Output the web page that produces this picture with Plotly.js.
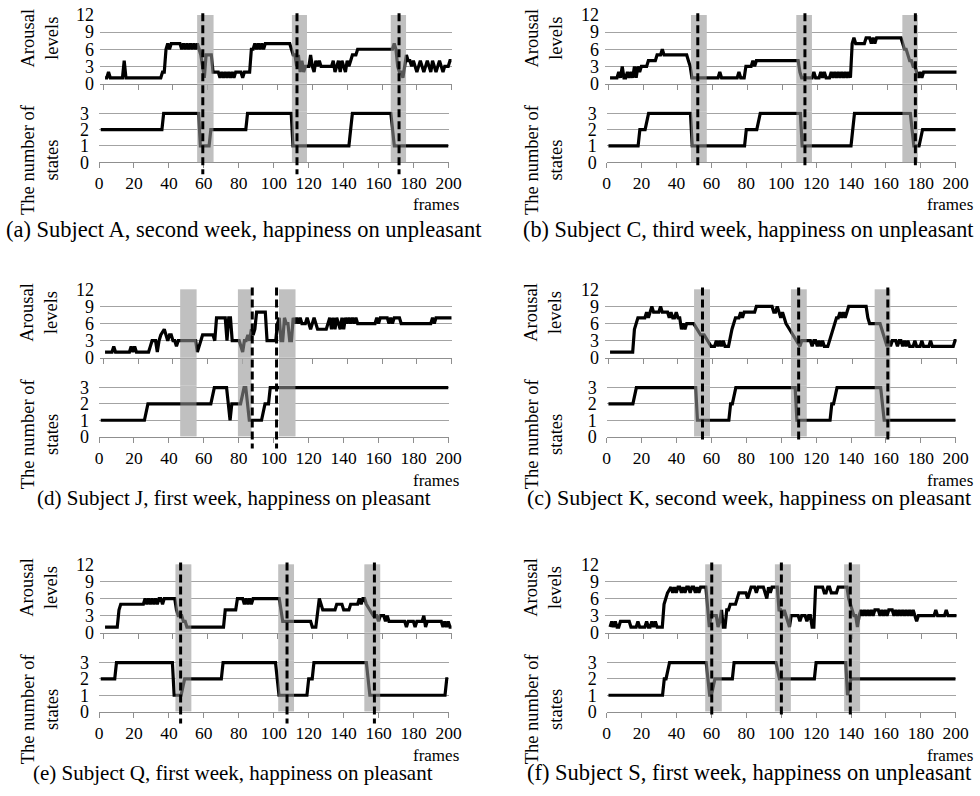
<!DOCTYPE html>
<html>
<head>
<meta charset="utf-8">
<script src="https://cdn.plot.ly/plotly-3.0.1.min.js"></script>
<style>html,body{margin:0;padding:0;background:#fff;}#chart{width:980px;height:796px;}</style>
</head>
<body>
<div id="chart"></div>
<script>
// ---------------- DATA (vertices: frame, value) ----------------
const xTickVals = [0,20,40,60,80,100,120,140,160,180,200];
const arousalTicks = [0,3,6,9,12];
const statesTicks = [0,1,2,3];

const captions = [
  "(a) Subject A, second week, happiness on unpleasant",
  "(b) Subject C, third week, happiness on unpleasant",
  "(d) Subject J, first week, happiness on pleasant",
  "(c) Subject K, second week, happiness on pleasant",
  "(e) Subject Q, first week, happiness on pleasant",
  "(f) Subject S, first week, happiness on unpleasant"
];

// (a) Subject A
const arousalA_x = [1,2,3,4,11,12,13,33,34,35,36,37,38,39,44,45,46,47,48,49,50,51,52,53,54,55,56,57,58,59,62,63,66,67,68,69,70,71,72,73,74,75,76,79,80,81,84,85,86,87,88,89,90,91,92,93,107,108,109,110,111,112,113,114,115,116,118,119,120,121,122,123,124,125,131,132,133,134,135,136,137,138,139,140,141,142,143,145,146,166,167,168,169,170,171,172,173,174,175,176,177,178,179,180,181,182,183,184,185,186,187,188,189,190,191,192,193,194,195,196,198,199,200];
const arousalA_y = [1,1,2,1,1,4,1,1,2,2,6,7,6,7,7,6,7,6,7,6,7,6,7,6,7,6,5,3,1,5,5,2,2,1,2,1,2,1,2,1,2,1,2,2,1,2,2,6,6,7,6,7,6,7,6,7,7,6,5,5,3,5,2,4,2,3,3,5,3,2,4,3,4,3,3,4,2,3,4,2,4,3,2,4,3,4,5,5,6,6,7,6,3,2,2,1,3,5,4,4,3,4,3,2,3,4,3,2,3,4,3,2,4,3,2,3,4,3,2,3,3,4,4];
const statesA_x = [1,36,37,57,58,63,64,84,85,110,111,143,144,145,167,168,169,200];
const statesA_y = [2,2,3,3,1,1,2,2,3,3,1,1,2,3,3,2,1,1];
const rectsA = [[56.2,65.5],[110.4,119.0],[167.0,175.7]];
const dashesA = [59.4,113.3,171.7];

// (b) Subject C
const arousalB_x = [1,5,6,7,8,9,10,11,12,13,14,15,16,17,18,19,22,23,27,28,30,31,32,45,46,47,48,49,63,64,65,74,75,76,78,79,82,83,84,85,86,109,110,111,117,118,119,121,122,123,124,125,127,128,129,130,131,132,133,134,135,136,137,138,139,140,141,142,147,148,150,151,152,153,154,168,169,170,171,172,173,174,175,176,177,178,179,180,181,200];
const arousalB_y = [1,1,2,1,3,1,1,2,1,2,1,3,1,3,2,3,3,4,4,5,5,6,5,5,4,3,1,1,1,2,1,1,2,1,1,3,3,4,3,4,4,4,2,1,1,2,1,1,2,1,2,1,1,2,1,2,1,2,1,2,1,2,1,2,1,7,8,7,7,8,8,7,8,7,8,8,7,6,6,5,4,4,3,3,2,1,2,1,2,2];
const statesB_x = [1,18,19,22,24,48,49,79,80,86,88,111,112,140,142,174,176,179,181,200];
const statesB_y = [1,1,2,2,3,3,1,1,2,2,3,3,1,1,3,3,1,1,2,2];
const rectsB = [[48.3,57.3],[108.7,117.6],[169.5,178.3]];
const dashesB = [52.2,113.6,176.9];

// (d) Subject J
const arousalD_x = [1,5,6,7,15,16,17,18,19,26,27,28,30,31,32,33,35,36,37,38,39,40,41,42,43,53,54,55,56,57,63,64,65,70,71,72,73,74,78,79,80,81,82,83,84,85,86,87,88,93,94,99,100,101,102,103,104,105,106,107,108,109,110,111,112,113,114,116,117,118,119,120,121,122,123,128,129,130,131,132,133,134,135,136,137,138,139,140,141,142,143,144,145,146,156,157,158,159,163,164,165,166,167,170,171,188,189,190,191,200];
const arousalD_y = [1,1,2,1,1,2,1,2,1,1,2,3,3,1,3,4,5,4,3,4,4,3,3,2,3,3,1,2,3,4,4,3,7,7,3,7,7,3,3,2,1,3,3,4,3,5,4,5,8,8,3,3,6,7,3,3,7,6,6,3,3,7,6,7,6,7,6,6,7,6,5,6,7,6,5,5,6,7,5,7,5,7,6,5,7,5,7,6,7,6,7,6,7,6,6,7,6,7,7,6,7,6,7,7,6,6,7,6,7,7];
const statesD_x = [1,26,28,64,66,73,74,75,76,81,83,84,85,86,93,95,97,98,200];
const statesD_y = [1,1,2,2,3,3,2,1,2,2,3,3,2,1,1,2,2,3,3];
const rectsD = [[46.5,55.8],[79.5,87.2],[103.0,112.4]];
const dashesD = [87.7,101.6];

// (c) Subject K
const arousalC_x = [1,14,15,16,17,21,22,23,24,25,26,29,30,31,34,35,36,37,38,39,40,41,42,43,44,45,49,51,53,55,57,59,61,62,63,64,65,66,67,69,71,72,73,75,76,77,78,84,85,94,95,96,97,98,99,100,101,102,104,106,108,110,111,116,117,118,119,120,121,122,123,124,126,127,128,129,130,131,132,133,134,135,136,137,138,148,149,150,156,157,158,159,160,161,162,163,165,166,167,168,169,170,171,172,173,175,176,177,179,180,181,184,185,186,198,199,200];
const arousalC_y = [1,1,5,6,7,7,8,7,8,9,8,8,9,8,8,7,8,7,7,8,7,7,5,6,5,6,6,5,4,4,3,2,2,3,2,3,2,3,2,2,5,6,7,7,8,7,8,8,9,9,8,8,9,8,7,8,7,6,5,4,3,2,3,3,2,3,3,2,3,2,3,2,2,3,4,5,6,7,7,8,7,8,7,8,9,9,7,6,6,5,4,3,2,3,2,3,3,2,3,3,2,3,2,3,2,2,3,2,2,3,2,2,3,2,2,3,3];
const statesC_x = [1,15,17,51,52,70,71,72,74,108,109,128,129,130,132,157,159,200];
const statesC_y = [2,2,3,3,1,1,2,2,3,3,1,1,2,2,3,3,1,1];
const rectsC = [[50.1,59.2],[105.6,114.6],[153.6,162.5]];
const dashesC = [54.9,110.0,161.1];

// (e) Subject Q
const arousalE_x = [1,8,9,10,23,24,25,26,27,28,29,30,31,32,33,34,35,41,42,43,45,46,47,48,69,70,76,77,80,81,82,83,84,85,86,101,102,103,119,120,122,123,124,125,126,133,134,137,138,141,142,146,147,148,149,150,151,153,155,157,158,159,161,162,163,164,173,174,175,178,179,180,183,184,185,186,194,195,196,197,198,199,200];
const arousalE_y = [1,1,4,5,5,6,5,6,5,6,5,6,5,6,6,5,6,6,4,3,3,2,2,1,1,4,4,6,6,5,6,5,6,5,6,6,4,2,2,1,1,4,6,5,4,4,5,5,4,4,5,5,6,5,6,6,5,4,3,3,2,3,3,2,3,2,2,1,2,2,1,2,2,3,1,2,2,1,2,1,2,1,1];
const statesE_x = [1,9,10,42,43,47,49,70,71,101,103,119,120,122,123,153,155,198,199,200];
const statesE_y = [2,2,3,3,1,1,2,2,3,3,1,1,2,2,3,3,1,1,2,2];
const rectsE = [[43.8,52.8],[102.6,111.6],[151.9,160.9]];
const dashesE = [46.7,107.6,157.6];

// (f) Subject S
const arousalF_x = [1,2,3,4,5,6,7,12,13,16,17,18,21,22,23,24,25,26,27,28,31,32,33,34,36,37,38,39,40,41,42,43,44,45,46,47,48,49,50,51,52,53,56,57,58,59,62,63,64,65,66,67,68,69,70,73,74,75,79,80,81,82,84,85,86,89,90,91,92,93,94,97,98,99,100,101,102,103,104,105,109,110,111,113,114,115,116,117,118,119,123,124,125,126,127,128,131,132,137,138,139,140,141,142,143,144,145,146,147,148,149,150,151,152,153,155,156,157,158,159,160,161,163,164,165,166,167,168,169,170,171,172,173,174,175,176,177,178,187,188,189,193,194,195,200];
const arousalF_y = [1,2,1,2,1,1,2,2,1,1,2,1,1,2,1,1,2,1,2,1,1,5,6,7,8,7,8,7,8,8,7,8,7,8,8,7,8,8,7,8,7,8,8,4,1,3,3,1,2,4,1,1,4,4,5,5,6,7,7,6,7,8,8,7,8,8,7,6,8,7,8,8,4,4,3,4,3,2,1,3,3,2,3,3,2,3,3,1,1,8,8,7,7,8,8,7,7,8,8,6,5,4,3,3,1,3,4,3,4,3,4,3,4,3,4,4,3,4,3,4,3,4,4,3,4,3,4,3,4,3,4,3,4,3,4,3,2,3,3,4,3,3,4,3,3];
const statesF_x = [1,32,33,34,36,57,59,60,62,72,73,97,99,119,120,137,138,140,200];
const statesF_y = [1,1,2,2,3,3,1,1,2,2,3,3,2,2,3,3,1,2,2];
const rectsF = [[56.5,65.9],[96.4,105.5],[136.1,145.2]];
const dashesF = [60.2,100.1,139.6];

// ---------------- LAYOUT GEOMETRY ----------------
const W = 980, H = 796;
const FONT = '"Liberation Serif", "Times New Roman", Times, serif';
const COLS = [
  {L:99, R:448.5, uL:100, u0:103.3, u200:451.7, dashExt:12, titleX:39.5, framesX:460},
  {L:606.7, R:955.7, uL:605, u0:608.3, u200:956.7, dashExt:4, titleX:543.5, framesX:974}
];
const ROWS = [
  {T:15, fr:204, cap:229},
  {T:289.3, fr:480.5, cap:497.5},
  {T:564.3, fr:755.5, cap:772.5}
];
const AH = 68.5;           // arousal plot height (0..12)
const S0 = 147.3;          // offset of states 0 from T
const SU = 16.33;          // px per state unit
const STOP = 3.12;         // states axis top value

const panels = [
  {col:0,row:0,ax:arousalA_x,ay:arousalA_y,sx:statesA_x,sy:statesA_y,rects:rectsA,dashes:dashesA,cap:captions[0],capX:243.5,capSize:22.5},
  {col:1,row:0,ax:arousalB_x,ay:arousalB_y,sx:statesB_x,sy:statesB_y,rects:rectsB,dashes:dashesB,cap:captions[1],capX:748.3,capSize:22.2},
  {col:0,row:1,ax:arousalD_x,ay:arousalD_y,sx:statesD_x,sy:statesD_y,rects:rectsD,dashes:dashesD,cap:captions[2],capX:234,capSize:21},
  {col:1,row:1,ax:arousalC_x,ay:arousalC_y,sx:statesC_x,sy:statesC_y,rects:rectsC,dashes:dashesC,cap:captions[3],capX:749.2,capSize:22},
  {col:0,row:2,ax:arousalE_x,ay:arousalE_y,sx:statesE_x,sy:statesE_y,rects:rectsE,dashes:dashesE,cap:captions[4],capX:232.5,capSize:21},
  {col:1,row:2,ax:arousalF_x,ay:arousalF_y,sx:statesF_x,sy:statesF_y,rects:rectsF,dashes:dashesF,cap:captions[5],capX:749,capSize:22.5}
];

const fx = px => px / W;
const fy = py => 1 - py / H;
const sfx = k => (k === 1 ? '' : String(k));

const traces = [];
const layout = {
  width: W, height: H,
  margin: {l:0, r:0, t:0, b:0},
  paper_bgcolor: '#ffffff', plot_bgcolor: 'rgba(0,0,0,0)',
  showlegend: false,
  font: {family: FONT, color: '#000', size: 18},
  shapes: [], annotations: []
};

const GRID = '#a3a3a3', AXL = '#8f8f8f';

panels.forEach((p, i) => {
  const c = COLS[p.col], r = ROWS[p.row];
  const ku = 2*i + 1, kl = 2*i + 2;
  const uScale = (c.u200 - c.u0) / 200;
  const uStart = -(c.u0 - c.uL) / uScale;
  const lowToUp = f => ((c.L + f * (c.R - c.L) / 200) - c.u0) / uScale;

  layout['xaxis' + sfx(ku)] = {
    domain: [fx(c.uL), fx(c.u200)], range: [uStart, 200], anchor: 'y' + sfx(ku),
    showgrid: false, zeroline: false, showline: true, linecolor: AXL, linewidth: 1,
    ticks: 'outside', ticklen: 5, tickcolor: AXL, tickwidth: 1,
    tickvals: xTickVals, showticklabels: false, fixedrange: true
  };
  layout['yaxis' + sfx(ku)] = {
    domain: [fy(r.T + AH), fy(r.T)], range: [0, 12], anchor: 'x' + sfx(ku),
    showgrid: true, gridcolor: GRID, gridwidth: 1, zeroline: false, showline: false,
    ticks: '', tickvals: arousalTicks, ticktext: arousalTicks.map(String),
    tickfont: {family: FONT, size: 18, color: '#000'}, ticklabelstandoff: 5, fixedrange: true
  };
  layout['xaxis' + sfx(kl)] = {
    domain: [fx(c.L), fx(c.R)], range: [0, 200], anchor: 'y' + sfx(kl),
    showgrid: false, zeroline: false, showline: true, linecolor: AXL, linewidth: 1,
    ticks: 'outside', ticklen: 5, tickcolor: AXL, tickwidth: 1,
    tickvals: xTickVals, ticktext: xTickVals.map(String),
    tickfont: {family: FONT, size: 17.5, color: '#000'}, ticklabelstandoff: 0, fixedrange: true
  };
  layout['yaxis' + sfx(kl)] = {
    domain: [fy(r.T + S0), fy(r.T + S0 - STOP * SU)], range: [0, STOP], anchor: 'x' + sfx(kl),
    showgrid: true, gridcolor: GRID, gridwidth: 1, zeroline: false, showline: false,
    ticks: '', tickvals: statesTicks, ticktext: statesTicks.map(String),
    tickfont: {family: FONT, size: 18, color: '#000'}, ticklabelstandoff: 9, fixedrange: true
  };

  traces.push({x: p.ax, y: p.ay, xaxis: 'x' + sfx(ku), yaxis: 'y' + sfx(ku), type: 'scatter', mode: 'lines',
               line: {color: '#000', width: 3.2}, hoverinfo: 'skip'});
  traces.push({x: p.sx, y: p.sy, xaxis: 'x' + sfx(kl), yaxis: 'y' + sfx(kl), type: 'scatter', mode: 'lines',
               line: {color: '#000', width: 3.2}, hoverinfo: 'skip'});

  p.rects.forEach(rc => {
    layout.shapes.push({type: 'rect', layer: 'between', xref: 'x' + sfx(ku), yref: 'y' + sfx(ku),
      x0: lowToUp(rc[0]), x1: lowToUp(rc[1]), y0: 0, y1: 12, fillcolor: '#c0c0c0', line: {width: 0}});
    layout.shapes.push({type: 'rect', layer: 'between', xref: 'x' + sfx(kl), yref: 'y' + sfx(kl),
      x0: rc[0], x1: rc[1], y0: 0, y1: STOP, fillcolor: '#c0c0c0', line: {width: 0}});
    layout.shapes.push({type: 'rect', layer: 'below', xref: 'x' + sfx(kl), yref: 'paper',
      x0: rc[0], x1: rc[1], y0: fy(r.T + S0 - STOP * SU), y1: fy(r.T + AH), fillcolor: '#c0c0c0', line: {width: 0}});
    layout.shapes.push({type: 'rect', layer: 'above', xref: 'x' + sfx(kl), yref: 'paper',
      x0: rc[0], x1: rc[1], y0: fy(r.T + S0), y1: fy(r.T), fillcolor: 'rgba(192,192,192,0.45)', line: {width: 0}});
  });
  p.dashes.forEach(d => {
    layout.shapes.push({type: 'line', layer: 'above', xref: 'x' + sfx(kl), yref: 'paper',
      x0: d, x1: d, y0: fy(r.T - 1.7), y1: fy(r.T + S0 + c.dashExt),
      line: {color: '#000', width: 3, dash: '8px,4px'}});
  });

  layout.annotations.push({xref: 'paper', yref: 'paper', x: fx(c.titleX), y: fy(r.T + 23),
    text: 'Arousal<br>levels', textangle: -90, showarrow: false, xanchor: 'center', yanchor: 'middle',
    font: {family: FONT, size: 18.5, color: '#000'}});
  layout.annotations.push({xref: 'paper', yref: 'paper', x: fx(c.titleX), y: fy(r.T + 144.5),
    text: 'The number of<br>states', textangle: -90, showarrow: false, xanchor: 'center', yanchor: 'middle',
    font: {family: FONT, size: 18.5, color: '#000'}});
  layout.annotations.push({xref: 'paper', yref: 'paper', x: fx(c.framesX), y: fy(r.fr),
    text: 'frames', showarrow: false, xanchor: 'right', yanchor: 'middle', borderpad: 0,
    font: {family: FONT, size: 17, color: '#000'}});
  layout.annotations.push({xref: 'paper', yref: 'paper', x: fx(p.capX), y: fy(r.cap),
    text: p.cap, showarrow: false, xanchor: 'center', yanchor: 'middle', borderpad: 0,
    font: {family: FONT, size: p.capSize, color: '#000'}});
});

Plotly.newPlot('chart', traces, layout, {displayModeBar: false, staticPlot: true});
</script>
</body>
</html>
